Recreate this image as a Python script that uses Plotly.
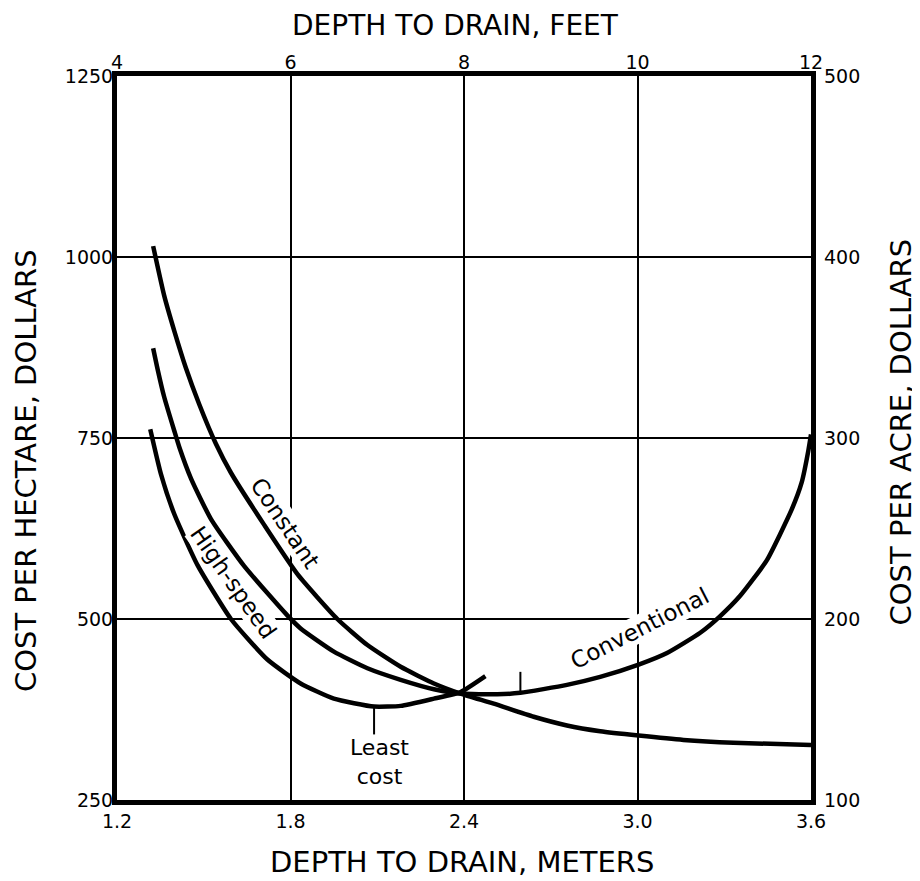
import plotly.graph_objects as go

# ---- axis ticks ----
depth_m_ticks = [1.2, 1.8, 2.4, 3.0, 3.6]
depth_m_labels = ["1.2", "1.8", "2.4", "3.0", "3.6"]
depth_ft_ticks = [4, 6, 8, 10, 12]
depth_ft_labels = ["4", "6", "8", "10", "12"]
cost_ha_ticks = [250, 500, 750, 1000, 1250]
cost_ha_labels = ["250", "500", "750", "1000", "1250"]
cost_acre_ticks = [100, 200, 300, 400, 500]
cost_acre_labels = ["100", "200", "300", "400", "500"]

# ---- curves (depth in meters, cost in dollars per hectare) ----
constant_x = [1.325, 1.363, 1.398, 1.438, 1.484, 1.542, 1.594, 1.709, 1.824, 1.962,
              2.066, 2.181, 2.296, 2.388, 2.503, 2.641, 2.756, 2.871, 3.004, 3.159,
              3.332, 3.6]
constant_y = [1015, 947, 898, 847, 797, 742, 702, 630, 562, 500,
              464, 434, 411, 397, 383, 365, 353, 345, 339, 333,
              329, 326]

conventional_x = [1.325, 1.341, 1.363, 1.398, 1.415, 1.456, 1.525, 1.640, 1.789, 1.835,
                  1.950, 2.066, 2.181, 2.296, 2.388, 2.515, 2.595, 2.756, 2.871, 3.004,
                  3.102, 3.217, 3.286, 3.355, 3.447, 3.533, 3.568, 3.591, 3.6]
conventional_y = [874, 844, 807, 760, 738, 694, 638, 573, 505, 487,
                  455, 432, 416, 403, 397, 396, 398, 409, 420, 437,
                  453, 481, 504, 532, 581, 651, 689, 733, 755]

highspeed_x = [1.315, 1.352, 1.398, 1.479, 1.594, 1.720, 1.835, 1.950, 2.089,
               2.181, 2.296, 2.388, 2.474]
highspeed_y = [762, 700, 645, 574, 500, 444, 411, 390, 379,
               380, 390, 399, 421]

# leader ticks
least_cost_tick_x = [2.089, 2.089]
least_cost_tick_y = [379, 340]
conv_min_tick_x = [2.595, 2.595]
conv_min_tick_y = [398, 427]

FONT = "DejaVu Sans"

fig = go.Figure()

for xs, ys in [(constant_x, constant_y), (conventional_x, conventional_y),
               (highspeed_x, highspeed_y)]:
    fig.add_trace(go.Scatter(x=xs, y=ys, mode="lines",
                             line=dict(color="black", width=4.5, shape="spline", smoothing=0.5),
                             hoverinfo="skip", showlegend=False))

for xs, ys in [(least_cost_tick_x, least_cost_tick_y), (conv_min_tick_x, conv_min_tick_y)]:
    fig.add_trace(go.Scatter(x=xs, y=ys, mode="lines",
                             line=dict(color="black", width=2),
                             hoverinfo="skip", showlegend=False))

# secondary axes carrier (invisible)
fig.add_trace(go.Scatter(x=depth_ft_ticks, y=cost_acre_ticks, xaxis="x2", yaxis="y2",
                         mode="markers", marker=dict(opacity=0), hoverinfo="skip",
                         showlegend=False))

tickfont = dict(family=FONT, size=19, color="black")

# page body has an 8px margin, so the figure is 8px smaller and shifted
fig.update_layout(
    width=912, height=873,
    margin=dict(l=109, r=109, t=68, b=81),
    paper_bgcolor="white", plot_bgcolor="white",
    xaxis=dict(range=[1.2, 3.6], tickmode="array", tickvals=depth_m_ticks, ticktext=depth_m_labels,
               showgrid=True, gridcolor="black", gridwidth=2, zeroline=False,
               showline=True, linecolor="black", linewidth=5, mirror=True,
               ticks="", tickfont=tickfont, ticklabelstandoff=0),
    yaxis=dict(range=[250, 1250], tickmode="array", tickvals=cost_ha_ticks, ticktext=cost_ha_labels,
               showgrid=True, gridcolor="black", gridwidth=2, zeroline=False,
               showline=True, linecolor="black", linewidth=5, mirror=True,
               ticks="", tickfont=tickfont, ticklabelstandoff=-5),
    xaxis2=dict(range=[4, 12], overlaying="x", side="top", anchor="y",
                tickmode="array", tickvals=depth_ft_ticks, ticktext=depth_ft_labels,
                showgrid=False, zeroline=False, showline=False, ticks="",
                tickfont=tickfont, ticklabelstandoff=2),
    yaxis2=dict(range=[100, 500], overlaying="y", side="right", anchor="x",
                tickmode="array", tickvals=cost_acre_ticks, ticktext=cost_acre_labels,
                showgrid=False, zeroline=False, showline=False, ticks="",
                tickfont=tickfont, ticklabelstandoff=12),
    showlegend=False,
)

title_font = dict(family=FONT, size=28, color="black")
label_font = dict(family=FONT, size=23, color="black")

annotations = [
    dict(text="DEPTH TO DRAIN, FEET", xref="paper", yref="paper", x=0.4878, y=1.0695,
         showarrow=False, font=title_font, xanchor="center", yanchor="middle"),
    dict(text="DEPTH TO DRAIN, METERS", xref="paper", yref="paper", x=0.4964, y=-0.0856,
         showarrow=False, font=dict(family=FONT, size=29, color="black"),
         xanchor="center", yanchor="middle"),
    dict(text="COST PER HECTARE, DOLLARS", xref="paper", yref="paper", x=-0.131, y=0.4544,
         showarrow=False, font=dict(family=FONT, size=29, color="black"), textangle=-90,
         xanchor="center", yanchor="middle"),
    dict(text="COST PER ACRE, DOLLARS", xref="paper", yref="paper", x=1.129, y=0.5083,
         showarrow=False, font=dict(family=FONT, size=29, color="black"), textangle=-90,
         xanchor="center", yanchor="middle"),
    dict(text="Constant", x=1.78, y=632, xref="x", yref="y", showarrow=False,
         font=label_font, textangle=56, bgcolor="white", borderpad=0),
    dict(text="High-speed", x=1.604, y=550, xref="x", yref="y", showarrow=False,
         font=label_font, textangle=55, bgcolor="white", borderpad=0),
    dict(text="Conventional", x=3.01, y=487, xref="x", yref="y", showarrow=False,
         font=label_font, textangle=-27, bgcolor="white", borderpad=0),
    dict(text="Least<br>cost", x=2.108, y=302, xref="x", yref="y", showarrow=False,
         font=dict(family=FONT, size=22, color="black"), bgcolor="white", borderpad=0),
]
fig.update_layout(annotations=annotations)

fig.write_html("out.html")
